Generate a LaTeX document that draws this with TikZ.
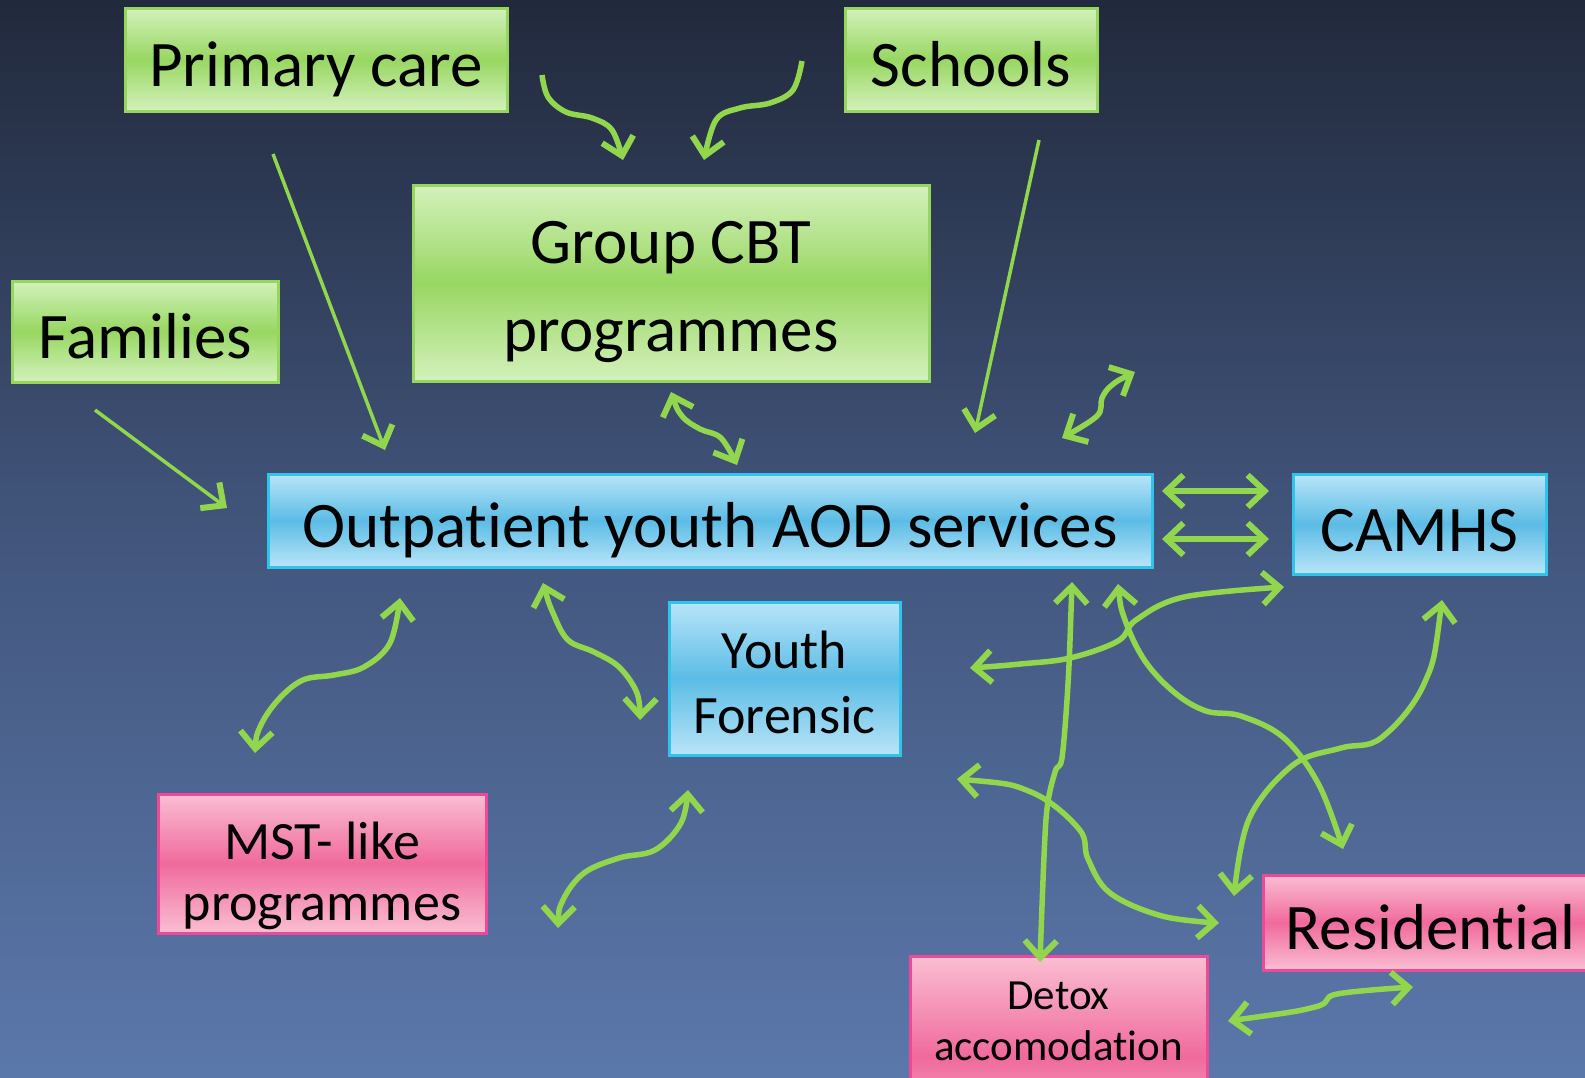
\documentclass[tikz,border=0pt]{standalone}
\usepackage{fontspec}
\setmainfont{Carlito}[Ligatures={NoCommon,NoContextual}]
\usetikzlibrary{arrows.meta}

\definecolor{bgtop}{RGB}{33,41,60}
\definecolor{bgmid}{RGB}{66,86,125}
\definecolor{bgbot}{RGB}{91,120,171}
\definecolor{gtop}{RGB}{212,241,188}
\definecolor{gmid}{RGB}{152,215,98}
\definecolor{gline}{RGB}{150,214,92}
\definecolor{btop}{RGB}{185,229,248}
\definecolor{bmid}{RGB}{92,188,229}
\definecolor{bline}{RGB}{48,196,236}
\definecolor{ptop}{RGB}{250,190,210}
\definecolor{pmid}{RGB}{240,106,156}
\definecolor{pline}{RGB}{238,72,152}
\definecolor{arrowgreen}{RGB}{146,214,78}

\tikzset{
  box/.style={draw, line width=3pt, inner sep=0pt, align=center, text=black},
  greenbox/.style={box, draw=gline, top color=gtop, bottom color=gtop, middle color=gmid},
  bluebox/.style={box, draw=bline, top color=btop, bottom color=btop, middle color=bmid},
  pinkbox/.style={box, draw=pline, top color=ptop, bottom color=ptop, middle color=pmid},
  bigtext/.style={font=\fontsize{65}{88}\selectfont},
  oneline/.style={text height=54pt, text depth=0pt},
  midtext/.style={font=\fontsize{54}{65}\selectfont},
  mstext/.style={font=\fontsize{54}{61}\selectfont},
  smalltext/.style={font=\fontsize{43}{51}\selectfont, align=center, text=black},
  link/.style={draw=arrowgreen, line width=5.5pt},
  thinlink/.style={draw=arrowgreen, line width=3.5pt},
  >={Straight Barb[length=17pt,width=32pt,line width=6pt]},
}

\begin{document}
\begin{tikzpicture}[x=1pt, y=-1pt]
  % background
  \fill[top color=bgtop, bottom color=bgbot, middle color=bgmid] (0,0) rectangle (1585,1077);
  \useasboundingbox (0,0) rectangle (1585,1077);
  \clip (0,0) rectangle (1585,1077);

  % referral sources
  \node[greenbox, bigtext, oneline, minimum width=382, minimum height=103] (primary) at (316,59.5) {Primary care};
  \node[greenbox, bigtext, oneline, minimum width=252, minimum height=103] (schools) at (971,59.5) {Schools};
  \node[greenbox, bigtext, oneline, minimum width=266, minimum height=101] (families) at (145,331.5) {Families};
  \node[greenbox, bigtext, minimum width=516, minimum height=196] (cbt) at (671,283) {\rule{0pt}{60pt}Group CBT\\programmes};

  % core services
  \node[bluebox, bigtext, oneline, minimum width=884, minimum height=93] (aod) at (710,520.5) {Outpatient youth AOD services};
  \node[bluebox, bigtext, oneline, minimum width=253, minimum height=100] (camhs) at (1419.5,524) {CAMHS};
  \node[bluebox, midtext, minimum width=231, minimum height=153] (forensic) at (784.5,678.5) {\rule{0pt}{45pt}Youth\\Forensic};

  % intensive options
  \node[pinkbox, mstext, minimum width=328, minimum height=139] (mst) at (322,863.5) {\rule{0pt}{63pt}MST- like\\programmes};
  \node[pinkbox, bigtext, oneline, anchor=west, minimum height=95, inner xsep=22pt] (resid) at (1262,922.5) {Residential};
  \node[pinkbox, minimum width=297, minimum height=200, anchor=north] (detox) at (1058.5,955) {};
  \node[smalltext] (detoxlabel) at (1058.5,1021) {Detox\\accomodation};

  % straight referral arrows
  \coordinate (pcA) at (273,154);  \coordinate (pcB) at (385,450);
  \coordinate (faA) at (95,410);   \coordinate (faB) at (227,508);
  \coordinate (scA) at (1039,140); \coordinate (scB) at (975,433);
  \draw[thinlink,->] (pcA) -- (pcB);
  \draw[thinlink,->] (faA) -- (faB);
  \draw[thinlink,->] (scA) -- (scB);

  % outpatient <-> CAMHS
  \coordinate (cmA) at (1162,491); \coordinate (cmB) at (1269,491);
  \coordinate (cmC) at (1162,539); \coordinate (cmD) at (1269,539);
  \draw[link,<->] (cmA) -- (cmB);
  \draw[link,<->] (cmC) -- (cmD);

  % curved arrows into group CBT
  \coordinate (cbA) at (542,75);  \coordinate (cbB) at (623,160);
  \coordinate (cbC) at (802,61);  \coordinate (cbD) at (704,160);
  \draw[link,->] plot[smooth, tension=0.6] coordinates {(cbA) (548,97) (566,112) (592,118) (612,130) (cbB)};
  \draw[link,->] plot[smooth, tension=0.6] coordinates {(cbC) (793,90) (770,103) (740,108) (716,120) (cbD)};

  % group CBT <-> outpatient
  \coordinate (coA) at (671,392); \coordinate (coB) at (737,465);
  \draw[link,<->] plot[smooth, tension=0.6] coordinates {(coA) (682,416) (700,429) (721,438) (coB)};

  % small link above CAMHS arrows
  \coordinate (ncA) at (1135,372); \coordinate (ncB) at (1062,438);
  \draw[link,<->] plot[smooth, tension=0.6] coordinates {(ncA) (1112,385) (1102,398) (1097,416) (ncB)};

  % MST <-> outpatient
  \coordinate (moA) at (255,753); \coordinate (moB) at (400,598);
  \draw[link,<->] plot[smooth, tension=0.6] coordinates {(moA) (260,727) (278,700) (303,680) (334,675) (364,667) (390,643) (moB)};

  % outpatient <-> youth forensic
  \coordinate (yfA) at (543,583); \coordinate (yfB) at (640,720);
  \draw[link,<->] plot[smooth, tension=0.6] coordinates {(yfA) (553,613) (568,640) (594,652) (619,667) (637,693) (yfB)};

  % MST <-> youth forensic
  \coordinate (myA) at (558,928); \coordinate (myB) at (688,790);
  \draw[link,<->] plot[smooth, tension=0.6] coordinates {(myA) (563,900) (584,873) (619,858) (655,850) (681,823) (myB)};

  % outpatient <-> detox
  \coordinate (odA) at (1072,582); \coordinate (odB) at (1040,962);
  \draw[link,<->] plot[smooth, tension=0.5] coordinates {(odA) (1068,684) (1062,758) (1055,772) (1046,819) (odB)};

  % outpatient <-> residential
  \coordinate (orA) at (1118,584); \coordinate (orB) at (1343,849);
  \draw[link,<->] plot[smooth, tension=0.6] coordinates {(orA) (1125,620) (1145,661) (1175,693) (1206,711) (1241,716) (1284,738) (1319,785) (orB)};

  % forensic <-> CAMHS
  \coordinate (fcA) at (970,668); \coordinate (fcB) at (1284,587);
  \draw[link,<->] plot[smooth, tension=0.6] coordinates {(fcA) (1020,664) (1070,658) (1118,641) (1136,620) (1184,597) (fcB)};

  % CAMHS <-> residential
  \coordinate (crA) at (1442,600); \coordinate (crB) at (1234,896);
  \draw[link,<->] plot[smooth, tension=0.6] coordinates {(crA) (1424,684) (1381,738) (1341,748) (1293,765) (1249,819) (crB)};

  % forensic <-> residential
  \coordinate (frA) at (957,779); \coordinate (frB) at (1219,923);
  \draw[link,<->] plot[smooth, tension=0.6] coordinates {(frA) (1031,792) (1079,829) (1088,859) (1110,893) (1162,916) (frB)};

  % detox <-> residential
  \coordinate (drA) at (1228,1021); \coordinate (drB) at (1413,987);
  \draw[link,<->] plot[smooth, tension=0.6] coordinates {(drA) (1315,1007) (1337,994) (drB)};
\end{tikzpicture}
\end{document}
